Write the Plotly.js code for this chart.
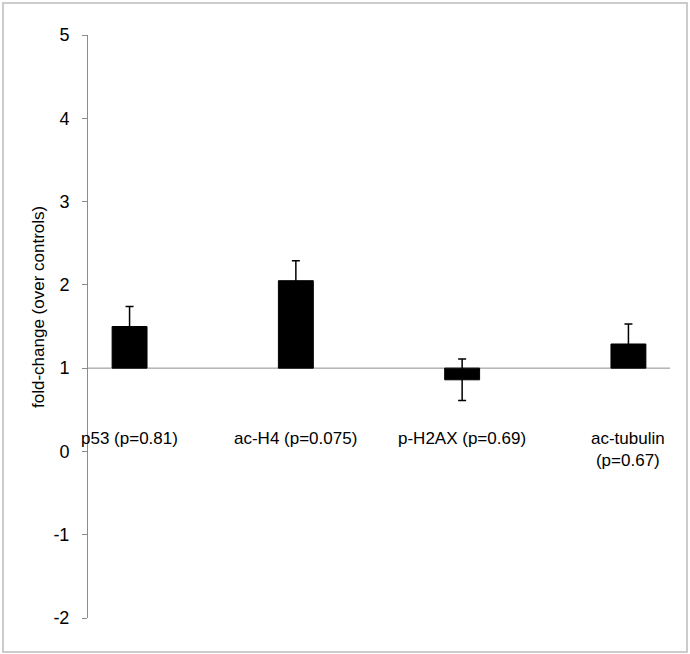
<!DOCTYPE html>
<html>
<head>
<meta charset="utf-8">
<script src="https://cdn.plot.ly/plotly-3.0.1.min.js"></script>
<style>
  html, body { margin: 0; padding: 0; background: #fff; }
  #wrap { position: relative; width: 690px; height: 654px; }
  #frame { position: absolute; left: 2px; top: 2px; width: 682px; height: 647px; border: 2px solid #cccccc; pointer-events: none; }
  #chart { position: absolute; left: 0; top: 0; width: 690px; height: 654px; }
</style>
</head>
<body>
<div id="wrap">
  <div id="chart"></div>
  <div id="frame"></div>
</div>
<script>
// Data
const categories = ["p53 (p=0.81)", "ac-H4 (p=0.075)", "p-H2AX (p=0.69)", "ac-tubulin<br>(p=0.67)"];
const foldChange = [1.5, 2.05, 0.86, 1.29];
const errors = [0.24, 0.24, 0.25, 0.24];
const baseline = 1;
const yTickVals = [-2, -1, 0, 1, 2, 3, 4, 5];
const yTitle = 'fold-change (over controls)';

const xpos = categories.map((c, i) => i);
const FONT = 'Liberation Sans, Arial, sans-serif';

const bars = {
  type: 'bar',
  x: xpos,
  y: foldChange.map(v => v - baseline),
  base: baseline,
  width: 0.21,
  marker: { color: '#000000', line: { color: '#000000', width: 1 } },
  hoverinfo: 'skip',
  showlegend: false
};

const errTrace = {
  type: 'scatter',
  mode: 'markers',
  x: xpos,
  y: foldChange,
  marker: { size: 1, color: 'rgba(0,0,0,0)' },
  error_y: { type: 'data', array: errors, symmetric: true, color: '#000000', thickness: 1.5, width: 4 },
  hoverinfo: 'skip',
  showlegend: false
};

const annotations = categories.map((c, i) => ({
  x: i, y: 0.29, xref: 'x', yref: 'y',
  text: c, showarrow: false, xanchor: 'center', yanchor: 'top', align: 'center',
  font: { family: FONT, size: 17, color: '#000000' }
}));
annotations.push({
  x: (38 - 88) / 582, y: (618 - 307) / 583, xref: 'paper', yref: 'paper',
  text: yTitle, showarrow: false, textangle: -90, xanchor: 'center', yanchor: 'middle',
  font: { family: FONT, size: 17, color: '#000000' }
});

const layout = {
  width: 690, height: 654,
  margin: { l: 88, r: 20, t: 35, b: 36 },
  paper_bgcolor: '#ffffff', plot_bgcolor: '#ffffff',
  showlegend: false,
  font: { family: FONT, size: 17, color: '#000000' },
  xaxis: { range: [-0.25, 3.25], visible: false, fixedrange: true },
  yaxis: {
    range: [-2, 5], tickvals: yTickVals, ticktext: yTickVals.map(String),
    showgrid: false, zeroline: false,
    showline: true, linecolor: '#8c8c8c', linewidth: 1,
    ticks: 'outside', ticklen: 5, tickcolor: '#8c8c8c', tickwidth: 1,
    ticklabelstandoff: 9,
    tickfont: { family: FONT, size: 18, color: '#000000' }
  },
  shapes: [{
    type: 'line', xref: 'x', yref: 'y', x0: -0.25, x1: 3.25, y0: baseline, y1: baseline,
    line: { color: '#8c8c8c', width: 1 }, layer: 'below'
  }],
  annotations: annotations
};

Plotly.newPlot('chart', [bars, errTrace], layout, { displayModeBar: false, staticPlot: true });
</script>
</body>
</html>
